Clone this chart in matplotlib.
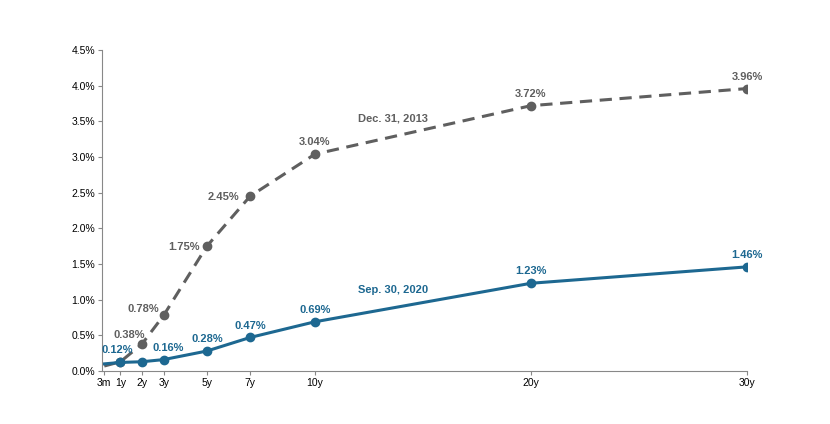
import numpy as np
import matplotlib.pyplot as plt
from matplotlib.ticker import FuncFormatter

plt.rcParams['font.family'] = ['Liberation Sans', 'DejaVu Sans']

# maturities in years
tenors = [0.25, 1, 2, 3, 5, 7, 10, 20, 30]
tenor_labels = ['3m', '1y', '2y', '3y', '5y', '7y', '10y', '20y', '30y']
dec2013 = [0.07, 0.13, 0.38, 0.78, 1.75, 2.45, 3.04, 3.72, 3.96]
sep2020 = [0.10, 0.12, 0.13, 0.16, 0.28, 0.47, 0.69, 1.23, 1.46]

gray = '#5f5f5f'
blue = '#1d6891'

fig = plt.figure(figsize=(8.3, 4.24), dpi=100)
ax = fig.add_axes([0.123, 0.125, 0.777, 0.757])

ax.plot(tenors, dec2013, color=gray, lw=2.2, ls=(0, (4, 2.5)))
ax.plot(tenors[1:], dec2013[1:], 'o', color=gray, ms=6)
ax.plot(tenors, sep2020, color=blue, lw=2.2)
ax.plot(tenors[1:], sep2020[1:], 'o', color=blue, ms=6)

# data labels: (index, dx, dy, ha) offsets in points
gray_lab = [(2, 2, 3, 'right'), (3, -3, 1, 'right'), (4, -5, -4, 'right'),
            (5, -8, -4, 'right'), (6, 0, 5, 'center'), (7, 0, 5, 'center'),
            (8, 0, 5, 'center')]
for i, dx, dy, ha in gray_lab:
    ax.annotate('%.2f%%' % dec2013[i], (tenors[i], dec2013[i]), xytext=(dx, dy),
                textcoords='offset points', ha=ha, va='bottom', fontsize=8,
                fontweight='bold', color=gray)

blue_lab = [(1, -2, 5, 'center'), (3, 3, 5, 'center'), (4, 0, 5, 'center'),
            (5, 0, 5, 'center'), (6, 0, 5, 'center'), (7, 0, 5, 'center'),
            (8, 0, 5, 'center')]
for i, dx, dy, ha in blue_lab:
    ax.annotate('%.2f%%' % sep2020[i], (tenors[i], sep2020[i]), xytext=(dx, dy),
                textcoords='offset points', ha=ha, va='bottom', fontsize=8,
                fontweight='bold', color=blue)

ax.text(13.6, 3.5, 'Dec. 31, 2013', color=gray, fontsize=8, fontweight='bold', ha='center')
ax.text(13.6, 1.09, 'Sep. 30, 2020', color=blue, fontsize=8, fontweight='bold', ha='center')

ax.set_xlim(0.15, 30)
ax.set_ylim(0, 4.5)
ax.set_xticks(tenors)
ax.set_xticklabels(tenor_labels)
ax.set_yticks(np.arange(0, 4.51, 0.5))
ax.yaxis.set_major_formatter(FuncFormatter(lambda v, p: '%.1f%%' % v))
ax.tick_params(labelsize=7.5, length=3, color='#888888', width=0.8, pad=2)
for s in ['top', 'right']:
    ax.spines[s].set_visible(False)
for s in ['left', 'bottom']:
    ax.spines[s].set_color('#888888')
    ax.spines[s].set_linewidth(0.8)

fig.savefig('out.png', dpi=100)
